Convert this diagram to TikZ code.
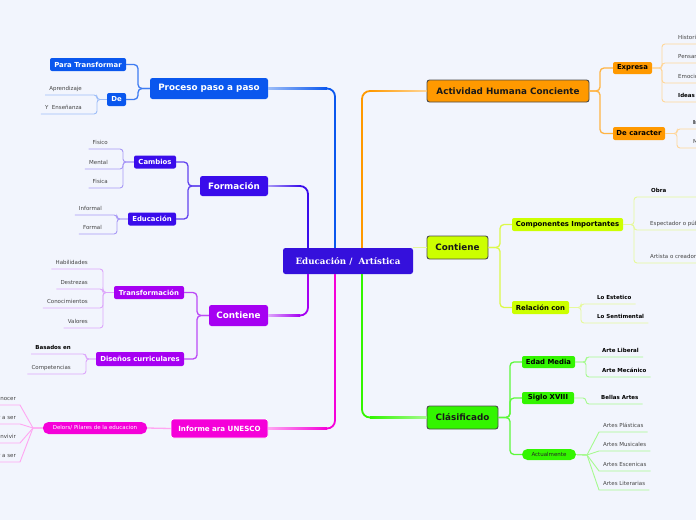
\documentclass[tikz,border=0pt]{standalone}
\usepackage{fontspec}
\setmainfont{DejaVu Sans}
\newfontfamily\cfont{DejaVu Serif}
\usetikzlibrary{calc}
\definecolor{bg}{HTML}{F2F5FD}
\definecolor{leafgray}{HTML}{444444}
\definecolor{cind}{HTML}{3510DC}
\definecolor{cblue}{HTML}{0A57EE}
\definecolor{cblueM}{HTML}{3F7CF2}
\definecolor{cblueL}{HTML}{9DBDF8}
\definecolor{cform}{HTML}{3A0CEB}
\definecolor{cformM}{HTML}{6244EF}
\definecolor{cformL}{HTML}{A898F6}
\definecolor{cpur}{HTML}{A600F2}
\definecolor{cpurM}{HTML}{BC4BF6}
\definecolor{cpurL}{HTML}{DDA6FB}
\definecolor{cmag}{HTML}{F500D9}
\definecolor{cmagM}{HTML}{FF4DE6}
\definecolor{cmagL}{HTML}{FFA6F2}
\definecolor{corg}{HTML}{FF9900}
\definecolor{corgM}{HTML}{FFB444}
\definecolor{corgL}{HTML}{FFD699}
\definecolor{cyel}{HTML}{CCFF00}
\definecolor{cyelM}{HTML}{DCF94A}
\definecolor{cyelL}{HTML}{E6F99A}
\definecolor{cgrn}{HTML}{33F500}
\definecolor{cgrnM}{HTML}{5CF83A}
\definecolor{cgrnL}{HTML}{A6FA8F}
\definecolor{bord}{HTML}{4A4A4A}
\tikzset{
  mainc/.style={line width=1.8pt, rounded corners=8pt},
  subc/.style={line width=1.3pt, rounded corners=4pt},
  leafc/.style={line width=0.9pt, rounded corners=3pt},
  fanc/.style={line width=0.9pt},
  lbox/.style={rounded corners=2.5pt, inner sep=0pt, text=white, font=\fontsize{8.8}{10}\selectfont\bfseries},
  rbox/.style={rounded corners=2.5pt, inner sep=0pt, text=black!90, draw=bord, line width=0.9pt, font=\fontsize{8.8}{10}\selectfont\bfseries},
  sbox/.style={rounded corners=2pt, inner sep=0pt, font=\fontsize{6.9}{8}\selectfont\bfseries},
  pill/.style={rounded corners=5.5pt, inner sep=0pt, font=\fontsize{5.5}{6}\selectfont},
  lf/.style={inner xsep=4pt, inner ysep=3pt, text height=4pt, text depth=1.5pt, font=\fontsize{5.5}{6}\selectfont, text=leafgray},
  lfb/.style={lf, font=\fontsize{5.5}{6}\selectfont\bfseries, text=black},
}
\begin{document}
\begin{tikzpicture}[x=1pt,y=-1pt]
\useasboundingbox (0,0) rectangle (696,520);
\fill[bg] (0,0) rectangle (696,520);
\begin{scope}
\clip (0,0) rectangle (696,520);

% ---------- main nodes
\node[fill=cind, text=white, rounded corners=2.5pt, minimum width=130pt, minimum height=26pt, inner sep=0pt, font=\cfont\bfseries\fontsize{8.7}{10}\selectfont] (C) at (348,261) {Educación /~ Artística};
\node[lbox, fill=cblue, minimum width=118pt, minimum height=21pt] (P) at (209,88.5) {Proceso paso a paso};
\node[lbox, fill=cform, minimum width=68pt, minimum height=20pt] (F) at (234,186) {Formación};
\node[lbox, fill=cpur, minimum width=59pt, minimum height=21pt] (K) at (238.5,315.5) {Contiene};
\node[lbox, fill=cmag, draw=white, line width=0.8pt, minimum width=97pt, minimum height=19pt, font=\fontsize{7.1}{8}\selectfont\bfseries] (U) at (219.5,428.5) {Informe ara UNESCO};
\node[rbox, fill=corg, minimum width=162pt, minimum height=22pt] (A) at (508,91) {Actividad Humana Conciente};
\node[rbox, fill=cyel, minimum width=61pt, minimum height=23pt] (Y) at (457.5,247.5) {Contiene};
\node[rbox, fill=cgrn, minimum width=71pt, minimum height=23pt] (G) at (462.5,417.5) {Clásificado};

% ---------- sub nodes
\node[sbox, fill=cblue, text=white, minimum width=76pt, minimum height=13pt] (P1) at (88,64.5) {Para Transformar};
\node[sbox, fill=cblue, text=white, minimum width=19pt, minimum height=13pt] (P2) at (116.5,99.5) {De};
\node[sbox, fill=cform, text=white, minimum width=42pt, minimum height=13pt] (F1) at (155,162) {Cambios};
\node[sbox, fill=cform, text=white, minimum width=48pt, minimum height=13pt] (F2) at (152,219) {Educación};
\node[sbox, fill=cpur, text=white, minimum width=70pt, minimum height=13pt] (K1) at (149,292.5) {Transformación};
\node[sbox, fill=cpur, text=white, minimum width=88pt, minimum height=14pt] (K2) at (140,359) {Diseños curriculares};
\node[pill, fill=cmag, text=white, minimum width=104pt, minimum height=12pt] (U1) at (95,428) {Delors/ Pilares de la educacion};
\node[sbox, fill=corg, text=black, minimum width=39pt, minimum height=12pt] (A1) at (632.5,68) {Expresa};
\node[sbox, fill=corg, text=black, minimum width=52pt, minimum height=13pt] (A2) at (639,133.5) {De caracter};
\node[sbox, fill=cyel, text=black, minimum width=111pt, minimum height=13pt] (Y1) at (567.5,224.5) {Componentes Importantes};
\node[sbox, fill=cyel, text=black, minimum width=57pt, minimum height=13pt] (Y2) at (540.5,307.5) {Relación con};
\node[sbox, fill=cgrn, text=black, minimum width=53pt, minimum height=12pt] (G1) at (548.5,362) {Edad Media};
\node[sbox, fill=cgrn, text=black, minimum width=52pt, minimum height=12pt] (G2) at (548,398) {Siglo XVIII};
\node[pill, fill=cgrn, text=black!85, minimum width=54pt, minimum height=11pt] (G3) at (549,454.5) {Actualmente};

% ---------- leaves
\node[lf, anchor=south east] (p2a) at (86,95) {Aprendizaje};
\node[lf, anchor=south east] (p2b) at (86,114) {Y\ \ Enseñanza};
\node[lf, anchor=south east] (f1a) at (112,149) {Fisico};
\node[lf, anchor=south east] (f1b) at (112,169) {Mental};
\node[lf, anchor=south east] (f1c) at (112,188) {Fisica};
\node[lf, anchor=south east] (f2a) at (106,215) {Informal};
\node[lf, anchor=south east] (f2b) at (106,234) {Formal};
\node[lf, anchor=south east] (k1a) at (92,269) {Habilidades};
\node[lf, anchor=south east] (k1b) at (92,289) {Destrezas};
\node[lf, anchor=south east] (k1c) at (92,308) {Conocimientos};
\node[lf, anchor=south east] (k1d) at (92,328) {Valores};
\node[lfb, anchor=south east] (k2a) at (75,354) {Basados en};
\node[lf, anchor=south east] (k2b) at (75,374) {Competencias};
\node[lf, anchor=south east] (u1a) at (20,405) {Aprender a conocer};
\node[lf, anchor=south east] (u1b) at (20,424) {Aprender a ser};
\node[lf, anchor=south east] (u1c) at (20,443) {Aprender a convivir};
\node[lf, anchor=south east] (u1d) at (20,462) {Aprender a ser};
\node[lf, anchor=south west] (a1a) at (674,44) {Historia};
\node[lf, anchor=south west] (a1b) at (674,63) {Pensamientos};
\node[lf, anchor=south west] (a1c) at (674,83) {Emociones};
\node[lfb, anchor=south west] (a1d) at (674,102) {Ideas};
\node[lfb, anchor=south west] (a2a) at (689,129) {Individual};
\node[lf, anchor=south west] (a2b) at (689,148) {Material};
\node[lfb, anchor=south west, minimum width=70pt, align=left, text width=60pt] (y1a) at (646,197) {Obra};
\node[lf, anchor=south west] (y1b) at (646,230) {Espectador o público};
\node[lf, anchor=south west] (y1c) at (646,263) {Artista o creador};
\node[lfb, anchor=south west] (y2a) at (593,304) {Lo Estetico};
\node[lfb, anchor=south west] (y2b) at (593,323) {Lo Sentimental};
\node[lfb, anchor=south west] (g1a) at (598,357) {Arte Liberal};
\node[lfb, anchor=south west] (g1b) at (598,377) {Arte Mecánico};
\node[lfb, anchor=south west] (g2a) at (597,404) {Bellas Artes};
\node[lf, anchor=south west] (g3a) at (599,432) {Artes Plásticas};
\node[lf, anchor=south west] (g3b) at (599,451) {Artes Musicales};
\node[lf, anchor=south west] (g3c) at (599,471) {Artes Escenicas};
\node[lf, anchor=south west] (g3d) at (599,490) {Artes Literarias};

% ---------- bracket coordinates
\coordinate (xA) at (335,0);
\coordinate (xB) at (308,0);
\coordinate (xC) at (362,0);
\coordinate (bP) at (138,0);
\coordinate (bF) at (188,0);
\coordinate (bK) at (197,0);
\coordinate (bA) at (600,0);
\coordinate (bY) at (500,0);
\coordinate (bG) at (510,0);
\coordinate (bP2) at (97,0);
\coordinate (bF1) at (123,0);
\coordinate (bF2) at (117,0);
\coordinate (bK1) at (103,0);
\coordinate (bK2) at (86,0);
\coordinate (bA1) at (662,0);
\coordinate (bA2) at (677,0);
\coordinate (bY1) at (634,0);
\coordinate (bY2) at (581,0);
\coordinate (bG1) at (586,0);
\coordinate (fanU) at (33,428);
\coordinate (fanG) at (587,455);

% ---------- main connectors
\draw[mainc, cblue] (C.north -| xA) |- (P.east);
\shade[left color=cblueL, right color=cblue] ($(P.east)+(0,-0.9)$) rectangle ($(P.east -| xA)+(-8,0.9)$);
\draw[mainc, cform] (C.north -| xB) |- (F.east);
\shade[left color=cformL, right color=cform] ($(F.east)+(0,-0.9)$) rectangle ($(F.east -| xB)+(-8,0.9)$);
\draw[mainc, cpur] (C.south -| xB) |- (K.east);
\shade[left color=cpurL, right color=cpur] ($(K.east)+(0,-0.9)$) rectangle ($(K.east -| xB)+(-8,0.9)$);
\draw[mainc, cmag] (C.south -| xA) |- (U.east);
\shade[left color=cmagL, right color=cmag] ($(U.east)+(0,-0.9)$) rectangle ($(U.east -| xA)+(-8,0.9)$);
\draw[mainc, corg] (C.north -| xC) |- (A.west);
\shade[left color=corg, right color=corgL] ($(A.west -| xC)+(8,-0.9)$) rectangle ($(A.west)+(0,0.9)$);
\draw[mainc, cgrn] (C.south -| xC) |- (G.west);
\shade[left color=cgrn, right color=cgrnL] ($(G.west -| xC)+(8,-0.9)$) rectangle ($(G.west)+(0,0.9)$);
\draw[line width=1.1pt, cyelL] (C.east |- Y.west) -- (Y.west);

% ---------- sub connectors
\draw[subc, cblueM] (P.west) -- (P.west -| bP) |- (P1.east);
\draw[subc, cblueM] (P.west) -- (P.west -| bP) |- (P2.east);
\draw[subc, cformM] (F.west) -- (F.west -| bF) |- (F1.east);
\draw[subc, cformM] (F.west) -- (F.west -| bF) |- (F2.east);
\draw[subc, cpurM] (K.west) -- (K.west -| bK) |- (K1.east);
\draw[subc, cpurM] (K.west) -- (K.west -| bK) |- (K2.east);
\draw[subc, cmagL] (U.west) -- (U1.east);
\draw[subc, corgM] (A.east) -- (A.east -| bA) |- (A1.west);
\draw[subc, corgM] (A.east) -- (A.east -| bA) |- (A2.west);
\draw[subc, cyelM] (Y.east) -- (Y.east -| bY) |- (Y1.west);
\draw[subc, cyelM] (Y.east) -- (Y.east -| bY) |- (Y2.west);
\draw[subc, cgrnM] (G.east) -- (G.east -| bG) |- (G1.west);
\draw[subc, cgrnM] (G.east) -- (G.east -| bG) |- (G2.west);
\draw[subc, cgrnM] (G.east) -- (G.east -| bG) |- (G3.west);

% ---------- leaf connectors (left)
\foreach \l in {p2a,p2b}
  \draw[leafc, cblueL] (P2.west) -- (P2.west -| bP2) |- (\l.south east) -- (\l.south west);
\foreach \l in {f1a,f1b,f1c}
  \draw[leafc, cformL] (F1.west) -- (F1.west -| bF1) |- (\l.south east) -- (\l.south west);
\foreach \l in {f2a,f2b}
  \draw[leafc, cformL] (F2.west) -- (F2.west -| bF2) |- (\l.south east) -- (\l.south west);
\foreach \l in {k1a,k1b,k1c,k1d}
  \draw[leafc, cpurL] (K1.west) -- (K1.west -| bK1) |- (\l.south east) -- (\l.south west);
\foreach \l in {k2a,k2b}
  \draw[leafc, cpurL] (K2.west) -- (K2.west -| bK2) |- (\l.south east) -- (\l.south west);
\foreach \l in {u1a,u1b,u1c,u1d}
  \draw[fanc, cmagL] (U1.west) -- (fanU) -- (\l.south east) -- (\l.south west);

% ---------- leaf connectors (right)
\foreach \l in {a1a,a1b,a1c,a1d}
  \draw[leafc, corgL] (A1.east) -- (A1.east -| bA1) |- (\l.south west) -- (\l.south east);
\foreach \l in {a2a,a2b}
  \draw[leafc, corgL] (A2.east) -- (A2.east -| bA2) |- (\l.south west) -- (\l.south east);
\foreach \l in {y1a,y1b,y1c}
  \draw[leafc, cyelL] (Y1.east) -- (Y1.east -| bY1) |- (\l.south west) -- (\l.south east);
\foreach \l in {y2a,y2b}
  \draw[leafc, cyelL] (Y2.east) -- (Y2.east -| bY2) |- (\l.south west) -- (\l.south east);
\foreach \l in {g1a,g1b}
  \draw[leafc, cgrnL] (G1.east) -- (G1.east -| bG1) |- (\l.south west) -- (\l.south east);
\draw[leafc, cgrnL] (G2.east) -- (G2.east -| bG1) |- (g2a.south west) -- (g2a.south east);
\foreach \l in {g3a,g3b,g3c,g3d}
  \draw[fanc, cgrnL] (G3.east) -- (fanG) -- (\l.south west) -- (\l.south east);
\end{scope}
\end{tikzpicture}
\end{document}
